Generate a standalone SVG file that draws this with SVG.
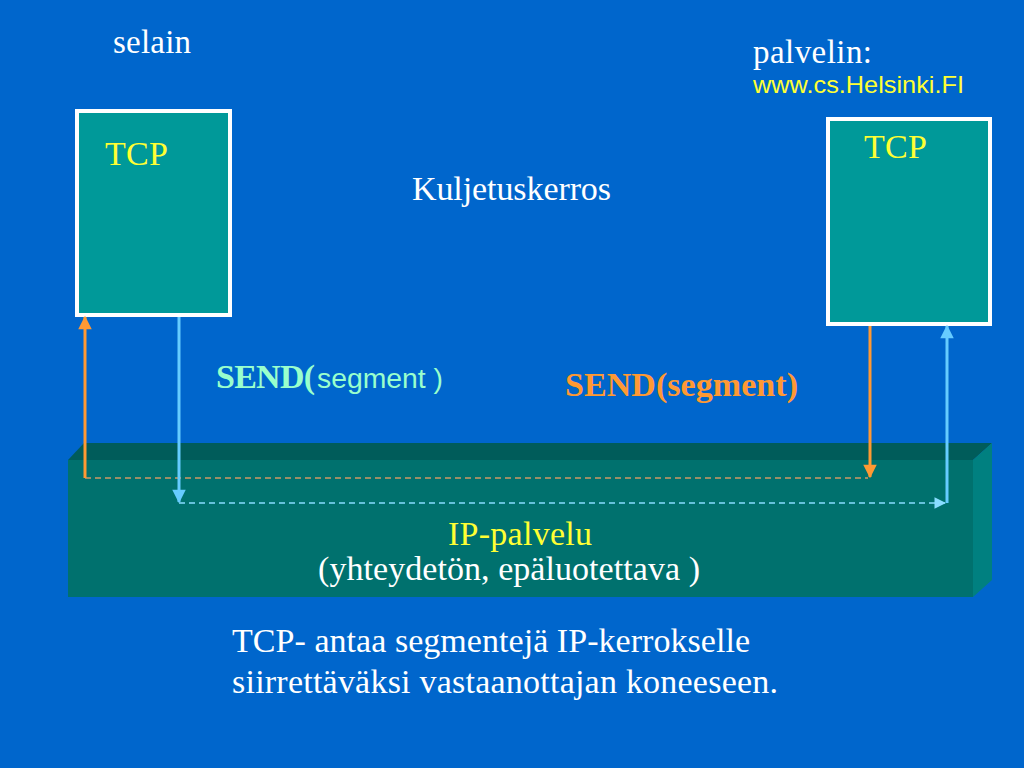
<svg xmlns="http://www.w3.org/2000/svg" width="1024" height="768" viewBox="0 0 1024 768">
  <defs>
    <style>
      .serif { font-family: "Liberation Serif", "Times New Roman", serif; }
      .sans { font-family: "Liberation Sans", Arial, sans-serif; }
      .box { fill: #009999; stroke: #ffffff; stroke-width: 4; }
      .orange { stroke: #ff9933; stroke-width: 3; fill: none; }
      .lblue { stroke: #66ccff; stroke-width: 3; fill: none; }
      .dashO { stroke: #cc9966; stroke-width: 1.3; stroke-dasharray: 6 4; fill: none; }
      .dashB { stroke: #88ddff; stroke-width: 1.3; stroke-dasharray: 6 4; fill: none; }
    </style>
    <marker id="arrO" viewBox="0 0 10 10" refX="9" refY="5" markerWidth="5.5" markerHeight="4.5" orient="auto" markerUnits="strokeWidth">
      <path d="M0,0 L10,5 L0,10 z" fill="#ff9933"/>
    </marker>
    <marker id="arrB" viewBox="0 0 10 10" refX="9" refY="5" markerWidth="5.5" markerHeight="4.5" orient="auto" markerUnits="strokeWidth">
      <path d="M0,0 L10,5 L0,10 z" fill="#66ccff"/>
    </marker>
    <marker id="arrBs" viewBox="0 0 10 10" refX="9" refY="5" markerWidth="9" markerHeight="9" orient="auto" markerUnits="strokeWidth">
      <path d="M0,0 L10,5 L0,10 z" fill="#88ddff"/>
    </marker>
  </defs>

  <rect x="0" y="0" width="1024" height="768" fill="#0066cc"/>

  <g id="ip-layer">
    <polygon points="68,460 84,443 992,443 973,460" fill="#005c5a"/>
    <polygon points="973,460 992,443 992,580 973,597" fill="#008080"/>
    <rect x="68" y="460" width="905" height="137" fill="#00716e"/>
    <text class="serif" x="448" y="545" font-size="34" fill="#ffff33" textLength="144">IP-palvelu</text>
    <text class="serif" x="318" y="580" font-size="34" fill="#ffffff" textLength="382">(yhteydetön, epäluotettava )</text>
  </g>

  <g id="tcp-left">
    <rect class="box" x="77" y="111" width="153" height="204"/>
    <text class="serif" x="105" y="165" font-size="34" fill="#ffff33" textLength="63">TCP</text>
  </g>

  <g id="tcp-right">
    <rect class="box" x="828" y="119" width="162" height="205"/>
    <text class="serif" x="864" y="158" font-size="34" fill="#ffff33" textLength="63">TCP</text>
  </g>

  <g id="connectors">
    <line class="dashO" x1="85" y1="478" x2="868" y2="478"/>
    <line class="dashB" x1="179" y1="503" x2="945" y2="503" marker-end="url(#arrBs)"/>
    <line class="orange" x1="85" y1="478" x2="85" y2="317" marker-end="url(#arrO)"/>
    <line class="lblue" x1="179" y1="317" x2="179" y2="502" marker-end="url(#arrB)"/>
    <line class="orange" x1="870" y1="326" x2="870" y2="477" marker-end="url(#arrO)"/>
    <line class="lblue" x1="947" y1="503" x2="947" y2="326" marker-end="url(#arrB)"/>
  </g>

  <g id="labels">
    <text class="serif" x="113" y="53" font-size="33" fill="#ffffff" textLength="78">selain</text>
    <text class="serif" x="753" y="63" font-size="33" fill="#ffffff" textLength="119">palvelin:</text>
    <text class="sans" x="753" y="93" font-size="24" fill="#ffff33" textLength="211" lengthAdjust="spacingAndGlyphs">www.cs.Helsinki.FI</text>
    <text class="serif" x="412" y="200" font-size="34" fill="#ffffff" textLength="199">Kuljetuskerros</text>
    <text class="serif" x="216" y="388" font-size="34" font-weight="bold" fill="#99ffcc" textLength="99">SEND(</text>
    <text class="sans" x="317" y="388" font-size="27" fill="#99ffcc" textLength="126" lengthAdjust="spacingAndGlyphs">segment )</text>
    <text class="serif" x="565" y="396" font-size="34" font-weight="bold" fill="#ff9933" textLength="233">SEND(segment)</text>
    <text class="serif" x="232" y="652" font-size="34" fill="#ffffff" textLength="518">TCP- antaa segmentejä IP-kerrokselle</text>
    <text class="serif" x="232" y="693" font-size="34" fill="#ffffff" textLength="546">siirrettäväksi vastaanottajan  koneeseen.</text>
  </g>
</svg>
